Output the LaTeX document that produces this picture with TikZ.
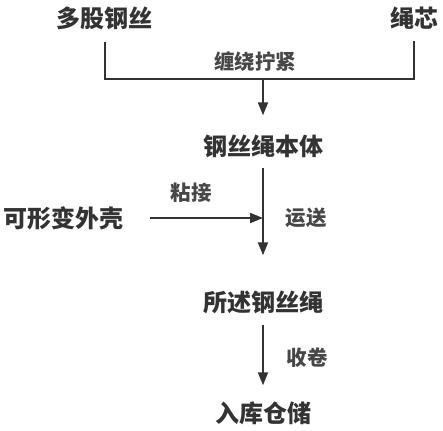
\documentclass[tikz,border=0pt]{standalone}
\usepackage{fontspec}
\usepackage{xcolor}
\usetikzlibrary{arrows.meta}
\setmainfont{Noto Sans CJK SC}
\definecolor{flowDark}{HTML}{333333}

\begin{document}
\begin{tikzpicture}[
    x=1pt, y=-1pt,
    step box/.style={inner sep=0pt, font=\fontsize{24}{24}\selectfont\bfseries, text=flowDark},
    tag/.style={inner sep=0pt, font=\fontsize{20.5}{20.5}\selectfont\bfseries, text=flowDark!90},
    link/.style={line width=2pt, draw=flowDark},
    flow/.style={link, -{Triangle[length=13pt, width=10pt]}}
]
\useasboundingbox (0,0) rectangle (443,430);

% Raw materials
\node[step box] (wires) at (104.5,18) {多股钢丝};
\node[step box] (core) at (414,18) {绳芯};

% Main steps
\node[step box] (ropebody) at (263,146) {钢丝绳本体};
\node[step box] (shell) at (63,218) {可形变外壳};
\node[step box] (rope) at (263,302) {所述钢丝绳};
\node[step box] (store) at (263,413) {入库仓储};

% Connections
\coordinate (join) at (263,79);
\draw[link] ([yshift=-12pt]wires.south) |- (join) -| ([yshift=-12pt]core.south);
\draw[flow, shorten >=19pt] (join) -- (ropebody.north);
\draw[flow, shorten <=10pt, shorten >=35pt] (ropebody.south) -- (rope.north);
\draw[flow, shorten <=27pt] (shell.east) -- (shell.east -| ropebody.south);
\draw[flow, shorten <=11pt, shorten >=16pt] (rope.south) -- (store.north);

% Labels
\node[tag] at (255,62) {缠绕拧紧};
\node[tag] at (191,193) {粘接};
\node[tag] at (306,218) {运送};
\node[tag] at (307,358) {收卷};

\end{tikzpicture}
\end{document}
